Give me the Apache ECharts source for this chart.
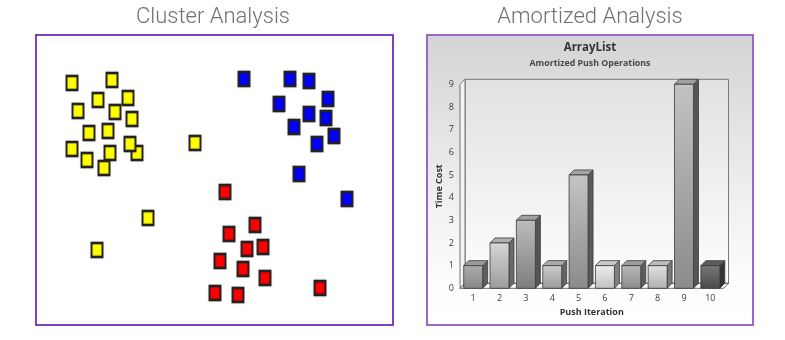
<!DOCTYPE html>
<html>
<head>
<meta charset="utf-8">
<script src="https://cdn.jsdelivr.net/npm/echarts@6/dist/echarts.min.js"></script>
<style>html,body{margin:0;padding:0;background:#fff}#c{width:785px;height:340px}</style>
</head>
<body>
<div id="c"></div>
<script>
// ---- Data (left panel: cluster positions in plot units, y measured downward) ----
const yellowPts = [[37,49],[77,46],[63,66],[93,64],[43,77],[80,78],[97,85],[54,99],[73,97],[37,115],[75,119],[102,119],[95,110],[52,126],[69,134],[160,109],[113,184],[62,216]];
const bluePts = [[209,45],[255,45],[274,47],[293,65],[244,70],[274,80],[291,84],[259,93],[299,102],[282,110],[264,140],[312,165]];
const redPts = [[190,158],[220,191],[194,200],[212,215],[228,213],[185,227],[208,235],[230,244],[180,259],[203,261],[285,254]];

// ---- Data (right panel) ----
const iterations = ['1','2','3','4','5','6','7','8','9','10'];
const timeCost = [1,2,3,1,5,1,1,1,9,1];
const yTicks = [0,1,2,3,4,5,6,7,8,9];

// styles (per-bar gray shading: [front top, front bottom, side, top face])
const barShades = [
  ['#ababab','#888888','#5e5e5e','#9a9a9a'],
  ['#d6d6d6','#9c9c9c','#6a6a6a','#b0b0b0'],
  ['#bcbcbc','#7e7e7e','#555555','#a0a0a0'],
  ['#cdcdcd','#9a9a9a','#666666','#aaaaaa'],
  ['#c4c4c4','#8a8a8a','#5a5a5a','#a4a4a4'],
  ['#ececec','#c2c2c2','#808080','#c8c8c8'],
  ['#b8b8b8','#8c8c8c','#5e5e5e','#9c9c9c'],
  ['#e0e0e0','#b0b0b0','#777777','#bdbdbd'],
  ['#c2c2c2','#8c8c8c','#555555','#a0a0a0'],
  ['#777777','#4a4a4a','#333333','#5c5c5c']
];

const chart = echarts.init(document.getElementById('c'), null, {renderer:'canvas'});
const D = 5; // 3D depth in px
const edge = '#3a3a3a';

function sq(color){
  return {type:'scatter', xAxisIndex:0, yAxisIndex:0, symbol:'rect', symbolSize:[11,14],
    itemStyle:{color:color, borderColor:'#222', borderWidth:2, shadowColor:'rgba(0,0,0,0.35)', shadowBlur:1.5, opacity:1},
    emphasis:{disabled:true}, silent:true, animation:false};
}

chart.setOption({
  animation:false,
  graphic:[
    {type:'rect', z:-10, shape:{x:427,y:35,width:326,height:290},
      style:{fill:new echarts.graphic.LinearGradient(0,0,0,1,[{offset:0,color:'#d4d4d4'},{offset:0.85,color:'#fdfdfd'},{offset:1,color:'#ffffff'}]), stroke:'#9a68c6', lineWidth:2}},
    {type:'rect', z:-10, shape:{x:36,y:35,width:357,height:290}, style:{fill:'#fff', stroke:'#7d40c0', lineWidth:2}},
    {type:'text', x:213, y:17, style:{text:'Cluster Analysis', font:'300 22px Roboto', fill:'#707070', align:'center', verticalAlign:'middle'}},
    {type:'text', x:590, y:17, style:{text:'Amortized Analysis', font:'300 22px Roboto', fill:'#707070', align:'center', verticalAlign:'middle'}},
    {type:'text', x:590, y:48, style:{text:'ArrayList', font:'bold 11.5px "Open Sans"', fill:'#333', align:'center', verticalAlign:'middle'}},
    {type:'text', x:590, y:63.5, style:{text:'Amortized Push Operations', font:'bold 8.8px "Open Sans"', fill:'#474747', align:'center', verticalAlign:'middle'}}
  ],
  grid:[
    {left:35, top:34, width:358, height:292, show:false},
    {left:460, top:84.3, width:263.5, height:204}
  ],
  xAxis:[
    {gridIndex:0, type:'value', min:0, max:358, show:false},
    {gridIndex:1, type:'category', data:iterations, axisLine:{show:false}, axisTick:{show:false},
      axisLabel:{margin:6, fontSize:9, fontFamily:'Open Sans', color:'#3a3a3a'},
      name:'Push Iteration', nameLocation:'middle', nameGap:20,
      nameTextStyle:{fontSize:9, fontWeight:'bold', fontFamily:'Open Sans', color:'#333'}}
  ],
  yAxis:[
    {gridIndex:0, type:'value', min:0, max:292, inverse:true, show:false},
    {gridIndex:1, type:'value', min:yTicks[0], max:yTicks[yTicks.length-1], interval:1,
      axisLine:{show:false}, axisTick:{show:false}, splitLine:{show:false},
      axisLabel:{margin:6, fontSize:9, fontFamily:'Open Sans', color:'#3a3a3a'},
      name:'Time Cost', nameLocation:'middle', nameGap:16,
      nameTextStyle:{fontSize:9, fontWeight:'bold', fontFamily:'Open Sans', color:'#333'}}
  ],
  series:[
    Object.assign(sq('#ffff00'), {data:yellowPts}),
    Object.assign(sq('#0000ff'), {data:bluePts}),
    Object.assign(sq('#ff0000'), {data:redPts}),
    { // walls and floor
      type:'custom', xAxisIndex:1, yAxisIndex:1, silent:true, z:1,
      data:[[0,0]],
      renderItem:function(params, api){
        const cs = params.coordSys;
        const x0 = cs.x, y0 = cs.y, x1 = cs.x + cs.width, y1 = cs.y + cs.height;
        return {type:'group', children:[
          {type:'rect', shape:{x:x0+D, y:y0-D, width:cs.width, height:cs.height},
            style:{fill:'rgba(255,255,255,0.18)', stroke:'#7a7a7a', lineWidth:1}},
          {type:'polygon', shape:{points:[[x0,y0],[x0+D,y0-D],[x0+D,y1-D],[x0,y1]]},
            style:{fill:'#f4f4f4', stroke:'#555', lineWidth:0.8}},
          {type:'polygon', shape:{points:[[x0,y1],[x0+D,y1-D],[x1+D,y1-D],[x1,y1]]},
            style:{fill:'#ffffff', stroke:'#444', lineWidth:0.8}}
        ]};
      }
    },
    { // 3D bars
      type:'custom', xAxisIndex:1, yAxisIndex:1, silent:true, z:2,
      data:timeCost.map((v,i)=>[i, v]),
      encode:{x:0, y:1},
      renderItem:function(params, api){
        const i = api.value(0);
        const top = api.coord([i, api.value(1)]);
        const base = api.coord([i, 0]);
        const bw = api.size([1,0])[0] * 0.72;
        const l = top[0] - bw/2, r = top[0] + bw/2, t = top[1], b = base[1];
        const s = barShades[params.dataIndex];
        return {type:'group', children:[
          {type:'polygon', shape:{points:[[r,t],[r+D,t-D],[r+D,b-D],[r,b]]},
            style:{fill:s[2], stroke:edge, lineWidth:0.8}},
          {type:'polygon', shape:{points:[[l,t],[l+D,t-D],[r+D,t-D],[r,t]]},
            style:{fill:s[3], stroke:edge, lineWidth:0.8}},
          {type:'rect', shape:{x:l, y:t, width:bw, height:b-t},
            style:{fill:new echarts.graphic.LinearGradient(0,0,0,1,[{offset:0,color:s[0]},{offset:1,color:s[1]}]), stroke:edge, lineWidth:0.8}}
        ]};
      }
    }
  ]
});
</script>
</body>
</html>
